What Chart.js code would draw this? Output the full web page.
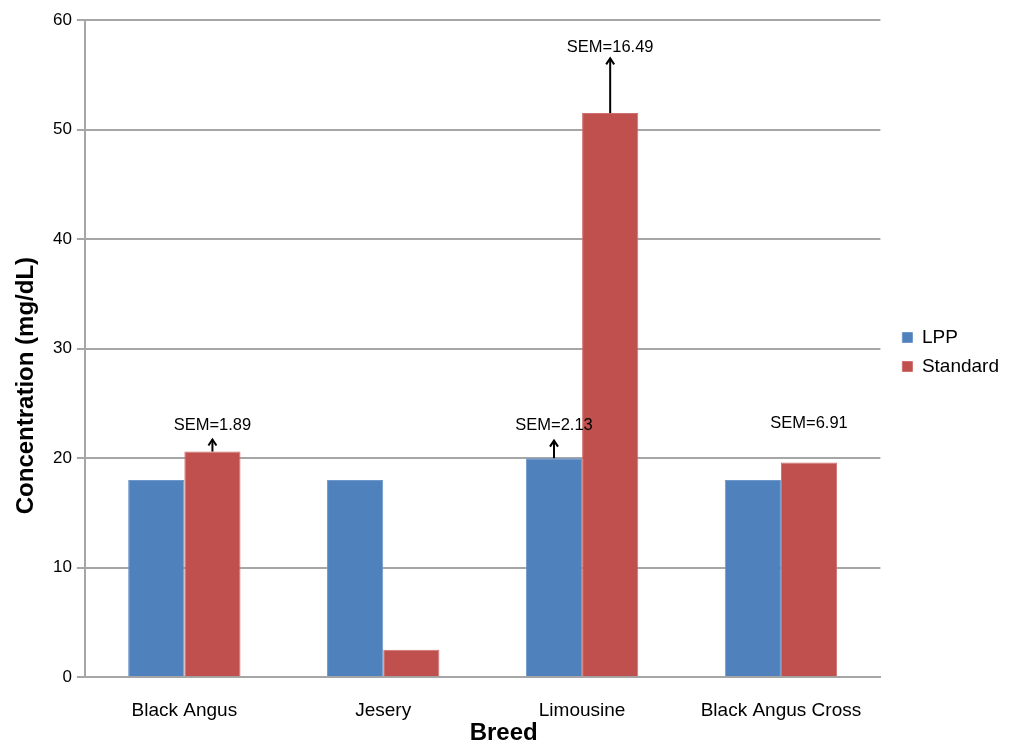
<!DOCTYPE html>
<html>
<head>
<meta charset="utf-8">
<script src="https://cdn.jsdelivr.net/npm/chart.js@4/dist/chart.umd.min.js"></script>
<style>
  body { margin: 0; background: #fff; }
  #wrap { width: 1019px; height: 745px; }
</style>
</head>
<body>
<div id="wrap"><canvas id="chart" width="1019" height="745"></canvas></div>
<script>
// breeds and series values (mg/dL)
const breeds = ['Black Angus', 'Jesery', 'Limousine', 'Black Angus Cross'];
const lppValues = [18, 18, 20, 18];
const standardValues = [20.6, 2.5, 51.5, 19.6];
const yTicks = [0, 10, 20, 30, 40, 50, 60];

// SEM notes: text, which breed / series they sit on, arrow tip and text height (in mg/dL)
const semLabels = ['SEM=1.89', 'SEM=16.49', 'SEM=2.13', 'SEM=6.91'];
const semBreed = [0, 2, 2, 3];
const semSeries = [1, 1, 0, 1];
const semArrowTop = [21.7, 56.5, 21.6, null];
const semTextAt = [23.0, 57.5, 23.0, 23.2];

const xTitle = 'Breed';
const yTitle = 'Concentration (mg/dL)';

const FONT = '"Liberation Sans", Arial, sans-serif';

const semPlugin = {
  id: 'sem',
  afterLayout(chart) {
    // nudge the legend to where the original sits
    const lg = chart.legend;
    lg.left += 12; lg.right += 12;
    lg.top -= 30; lg.bottom -= 30;
  },
  afterDraw(chart) {
    const ctx = chart.ctx;
    const y = chart.scales.y;
    const area = chart.chartArea;
    ctx.save();
    ctx.fillStyle = '#000';
    ctx.strokeStyle = '#000';
    ctx.font = '16.5px ' + FONT;
    ctx.textAlign = 'center';
    ctx.textBaseline = 'middle';
    semLabels.forEach((txt, i) => {
      const bar = chart.getDatasetMeta(semSeries[i]).data[semBreed[i]];
      const x = bar.x;
      if (semArrowTop[i] !== null) {
        const y0 = bar.y;
        const y1 = y.getPixelForValue(semArrowTop[i]);
        ctx.lineWidth = 2;
        ctx.beginPath();
        ctx.moveTo(x, y0);
        ctx.lineTo(x, y1);
        ctx.stroke();
        ctx.beginPath();
        ctx.moveTo(x - 4, y1 + 6);
        ctx.lineTo(x, y1);
        ctx.lineTo(x + 4, y1 + 6);
        ctx.stroke();
      }
      ctx.fillText(txt, x, y.getPixelForValue(semTextAt[i]));
    });

    // axis titles (off-centre in the original)
    ctx.font = 'bold 24px ' + FONT;
    ctx.fillText(xTitle, (area.left + area.right) / 2 + 21, chart.height - 12);
    ctx.translate(26, (area.top + area.bottom) / 2 + 37);
    ctx.rotate(-Math.PI / 2);
    ctx.fillText(yTitle, 0, 0);
    ctx.restore();
  }
};

new Chart(document.getElementById('chart').getContext('2d'), {
  type: 'bar',
  data: {
    labels: breeds,
    datasets: [
      { label: 'LPP', data: lppValues, backgroundColor: '#4f81bd', borderColor: '#6f97c9', borderWidth: 1 },
      { label: 'Standard', data: standardValues, backgroundColor: '#c0504d', borderColor: '#cf706d', borderWidth: 1 }
    ]
  },
  options: {
    responsive: false,
    animation: false,
    categoryPercentage: 0.565,
    barPercentage: 1,
    layout: { padding: { top: 20, right: 22, left: 48, bottom: 1 } },
    plugins: {
      legend: {
        position: 'right',
        labels: {
          boxWidth: 10,
          boxHeight: 10,
          padding: 10,
          color: '#000',
          font: { size: 19, family: FONT }
        }
      },
      tooltip: { enabled: false }
    },
    scales: {
      x: {
        grid: { display: false, drawTicks: false },
        border: { color: '#a6a6a6', width: 2 },
        ticks: { color: '#000', padding: 22, font: { size: 19, family: FONT } }
      },
      y: {
        min: 0, max: 60,
        z: 1,
        afterBuildTicks(scale) { scale.ticks = yTicks.map(v => ({ value: v })); },
        grid: { color: '#a6a6a6', lineWidth: 2, tickLength: 8 },
        border: { color: '#a6a6a6', width: 2 },
        ticks: { color: '#000', padding: 5, font: { size: 17, family: FONT } }
      }
    }
  },
  plugins: [semPlugin]
});
</script>
</body>
</html>
